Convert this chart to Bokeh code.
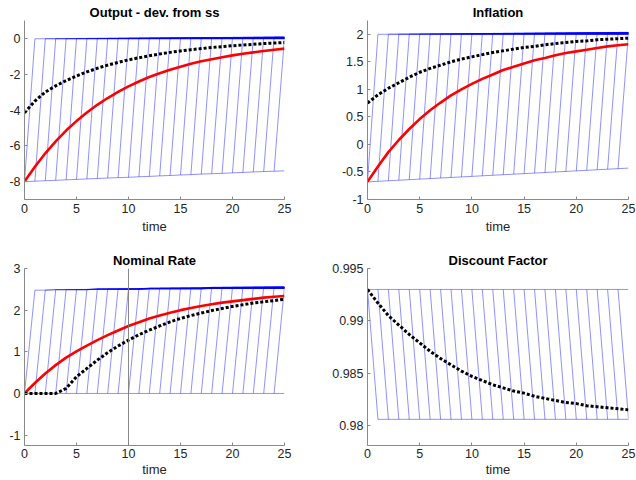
from bokeh.plotting import figure
from bokeh.layouts import column, row
from bokeh.models import FixedTicker, Span, Range1d
from bokeh.embed import file_html
from bokeh.resources import INLINE

time = list(range(26))

# Output - dev. from ss
out_red = [-8.0, -7.17, -6.42, -5.75, -5.15, -4.62, -4.14, -3.71, -3.33, -2.99, -2.68, -2.41, -2.16,
           -1.95, -1.75, -1.58, -1.42, -1.28, -1.16, -1.05, -0.95, -0.86, -0.78, -0.70, -0.63, -0.57]
out_black = [-4.15, -3.5, -3.0, -2.65, -2.36, -2.1, -1.87, -1.67, -1.49, -1.34, -1.2, -1.08, -0.97,
             -0.87, -0.78, -0.7, -0.63, -0.57, -0.51, -0.46, -0.41, -0.37, -0.33, -0.29, -0.26, -0.23]
out_pre = [-8.00, -7.98, -7.95, -7.93, -7.90, -7.88, -7.85, -7.83, -7.80, -7.78, -7.76, -7.73, -7.71,
           -7.68, -7.66, -7.63, -7.61, -7.58, -7.56, -7.54, -7.51, -7.49, -7.46, -7.44, -7.42, -7.40]
out_post = [-0.02, -0.02, -0.02, -0.02, -0.02, -0.02, -0.02, -0.02, -0.02, -0.02, -0.02, -0.02, -0.02,
            -0.02, -0.02, -0.02, -0.02, -0.02, -0.02, -0.02, -0.02, -0.02, -0.02, -0.02, -0.02, -0.02]
out_shift = [0.0, 0.004, 0.008, 0.013, 0.017, 0.021, 0.025, 0.029, 0.033, 0.038, 0.042, 0.046, 0.05,
             0.054, 0.058, 0.063, 0.067, 0.071, 0.075, 0.079, 0.083, 0.088, 0.092, 0.096, 0.1, 0.1]

# Inflation
inf_red = [-0.68, -0.40, -0.14, 0.08, 0.28, 0.46, 0.62, 0.76, 0.89, 1.00, 1.10, 1.19, 1.27,
           1.35, 1.41, 1.47, 1.53, 1.57, 1.62, 1.66, 1.69, 1.72, 1.75, 1.78, 1.80, 1.82]
inf_black = [0.75, 0.90, 1.02, 1.12, 1.22, 1.31, 1.38, 1.44, 1.50, 1.55, 1.59, 1.63, 1.67,
             1.70, 1.73, 1.76, 1.78, 1.81, 1.83, 1.85, 1.87, 1.88, 1.90, 1.91, 1.92, 1.93]
inf_pre = [-0.68, -0.67, -0.66, -0.65, -0.64, -0.63, -0.62, -0.61, -0.60, -0.59, -0.58, -0.57, -0.56,
           -0.55, -0.54, -0.53, -0.52, -0.51, -0.50, -0.49, -0.48, -0.47, -0.46, -0.45, -0.44, -0.43]
inf_post = [2.00, 2.00, 2.00, 2.00, 2.00, 2.00, 2.00, 2.00, 2.00, 2.00, 2.00, 2.00, 2.00,
            2.00, 2.00, 2.00, 2.00, 2.00, 2.00, 2.00, 2.00, 2.00, 2.00, 2.00, 2.00, 2.00]
inf_shift = [0.0, 0.0015, 0.003, 0.0045, 0.006, 0.0075, 0.009, 0.0105, 0.012, 0.0135, 0.015, 0.0165,
             0.018, 0.0195, 0.021, 0.0225, 0.024, 0.0255, 0.027, 0.0285, 0.03, 0.0315, 0.033, 0.0345,
             0.036, 0.036]

# Nominal Rate
nom_red = [0.00, 0.25, 0.48, 0.68, 0.86, 1.01, 1.15, 1.28, 1.40, 1.51, 1.62, 1.71, 1.80,
           1.87, 1.94, 2.00, 2.05, 2.10, 2.14, 2.18, 2.21, 2.24, 2.27, 2.30, 2.32, 2.34]
nom_black = [0.0, 0.0, 0.0, 0.0, 0.12, 0.40, 0.60, 0.80, 0.98, 1.14, 1.28, 1.41, 1.52,
             1.62, 1.72, 1.80, 1.87, 1.93, 1.99, 2.04, 2.09, 2.13, 2.17, 2.20, 2.23, 2.26]
nom_pre = [0.0, 0.0, 0.0, 0.0, 0.0, 0.0, 0.0, 0.0, 0.0, 0.0, 0.0, 0.0, 0.0,
           0.0, 0.0, 0.0, 0.0, 0.0, 0.0, 0.0, 0.0, 0.0, 0.0, 0.0, 0.0, 0.0]
nom_post = [2.48, 2.48, 2.48, 2.49, 2.49, 2.49, 2.49, 2.50, 2.50, 2.50, 2.50, 2.50, 2.51,
            2.51, 2.51, 2.51, 2.51, 2.51, 2.52, 2.52, 2.52, 2.52, 2.52, 2.52, 2.52, 2.52]
nom_shift = [0.0, 0.002, 0.003, 0.005, 0.007, 0.008, 0.01, 0.012, 0.013, 0.015, 0.017, 0.018, 0.02,
             0.022, 0.023, 0.025, 0.027, 0.028, 0.03, 0.032, 0.033, 0.035, 0.037, 0.038, 0.04, 0.04]
nom_vline = 10

# Discount Factor
disc_black = [0.9930, 0.9917, 0.9905, 0.9896, 0.9887, 0.9879, 0.9871, 0.9864, 0.9858, 0.9852, 0.9847,
              0.9843, 0.9839, 0.9836, 0.9833, 0.9831, 0.9828, 0.9826, 0.9824, 0.9822, 0.9821,
              0.9819, 0.9818, 0.9817, 0.9816, 0.9815]
disc_pre = [0.993, 0.993, 0.993, 0.993, 0.993, 0.993, 0.993, 0.993, 0.993, 0.993, 0.993, 0.993, 0.993,
            0.993, 0.993, 0.993, 0.993, 0.993, 0.993, 0.993, 0.993, 0.993, 0.993, 0.993, 0.993, 0.993]
disc_post = [0.9806, 0.9806, 0.9806, 0.9806, 0.9806, 0.9806, 0.9806, 0.9806, 0.9806, 0.9806, 0.9806,
             0.9806, 0.9806, 0.9806, 0.9806, 0.9806, 0.9806, 0.9806, 0.9806, 0.9806, 0.9806,
             0.9806, 0.9806, 0.9806, 0.9806, 0.9806]
disc_shift = [0.0, 0.0, 0.0, 0.0, 0.0, 0.0, 0.0, 0.0, 0.0, 0.0, 0.0, 0.0, 0.0,
              0.0, 0.0, 0.0, 0.0, 0.0, 0.0, 0.0, 0.0, 0.0, 0.0, 0.0, 0.0, 0.0]

x_ticks = [0, 5, 10, 15, 20, 25]
FONT = "Liberation Sans"
AX = "#8a8a8a"
TXT = "#262626"


def make_fig(title, yr, yticks, ylabels, bl, br, bt, bb, tick_so, lab_so):
    p = figure(width=318, height=240, x_range=Range1d(0, 25), y_range=Range1d(*yr),
               output_backend="svg", toolbar_location=None, title=title,
               min_border_left=bl, min_border_right=br, min_border_top=bt, min_border_bottom=bb)
    p.title.align = "center"
    p.title.text_font = FONT
    p.title.text_font_size = "13px"
    p.title.text_font_style = "bold"
    p.title.text_color = "#000000"
    p.title.standoff = 1
    p.title.offset = 0
    p.outline_line_color = None
    p.xgrid.visible = False
    p.ygrid.visible = False
    p.background_fill_color = "white"
    p.border_fill_color = "white"
    p.xaxis.ticker = FixedTicker(ticks=x_ticks)
    p.yaxis.ticker = FixedTicker(ticks=yticks)
    p.yaxis.major_label_overrides = {t: l for t, l in zip(yticks, ylabels)}
    p.xaxis.axis_label = "time"
    for ax in (p.xaxis[0], p.yaxis[0]):
        ax.axis_line_color = AX
        ax.major_tick_line_color = AX
        ax.major_tick_in = 3
        ax.major_tick_out = 0
        ax.minor_tick_line_color = None
        ax.major_label_text_font = FONT
        ax.major_label_text_font_size = "12.5px"
        ax.major_label_text_color = TXT
        ax.major_label_standoff = 4
    p.xaxis.major_label_standoff = tick_so
    p.xaxis.axis_label_text_font = FONT
    p.xaxis.axis_label_text_font_size = "13px"
    p.xaxis.axis_label_text_font_style = "normal"
    p.xaxis.axis_label_text_color = TXT
    p.xaxis.axis_label_standoff = lab_so
    return p


def blue_family(p, pre, post, shift):
    # path k stays on `pre` up to t=k, then jumps onto `post` (+ its own shift);
    # identical pieces are drawn only once
    segs = set()
    for k in time:
        ys = [pre[t] if t <= k else post[t] + shift[k] for t in time]
        for t in time[:-1]:
            segs.add((t, round(ys[t], 6), t + 1, round(ys[t + 1], 6)))
    segs = sorted(segs)
    p.segment([s[0] for s in segs], [s[1] for s in segs], [s[2] for s in segs], [s[3] for s in segs],
              line_color="#0000ff", line_alpha=0.55, line_width=0.8)


def dotted(p, y):
    p.line(time, y, line_color="black", line_width=3, line_dash="3 2", line_cap="butt")


f1 = make_fig("Output - dev. from ss", (-9, 1), [-8, -6, -4, -2, 0], ["-8", "-6", "-4", "-2", "0"],
              24, 34, 20, 41, 4, 3)
blue_family(f1, out_pre, out_post, out_shift)
dotted(f1, out_black)
f1.line(time, out_red, line_color="#ff0000", line_width=2.6)

f2 = make_fig("Inflation", (-1, 2.25), [-1, -0.5, 0, 0.5, 1, 1.5, 2],
              ["-1", "-0.5", "0", "0.5", "1", "1.5", "2"], 49, 8, 20, 41, 4, 3)
blue_family(f2, inf_pre, inf_post, inf_shift)
dotted(f2, inf_black)
f2.line(time, inf_red, line_color="#ff0000", line_width=2.6)

f3 = make_fig("Nominal Rate", (-1.25, 3), [-1, 0, 1, 2, 3], ["-1", "0", "1", "2", "3"],
              24, 34, 28, 35, 3, 1)
blue_family(f3, nom_pre, nom_post, nom_shift)
f3.add_layout(Span(location=nom_vline, dimension="height", line_color="#7a7a7a", line_width=0.9))
f3.line(time, nom_red, line_color="#ff0000", line_width=2.6)
dotted(f3, nom_black)

f4 = make_fig("Discount Factor", (0.9781, 0.995), [0.98, 0.985, 0.99, 0.995],
              ["0.98", "0.985", "0.99", "0.995"], 49, 8, 28, 35, 3, 1)
blue_family(f4, disc_pre, disc_post, disc_shift)
dotted(f4, disc_black)

layout = column(row(f1, f2), row(f3, f4))
open("out.html", "w").write(file_html(layout, INLINE))
